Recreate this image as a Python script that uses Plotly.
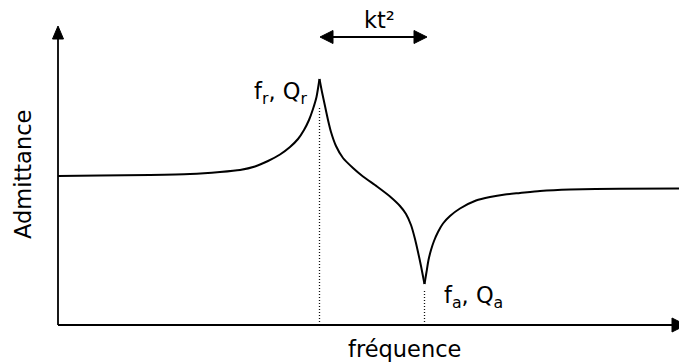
import plotly.graph_objects as go

# Admittance magnitude around resonance (arbitrary units, origin at the axes corner)
freq = [0, 42, 92, 132, 162, 182, 197, 210, 222, 232, 240, 246, 251, 255, 258.5,
        261.5,
        264, 267, 270, 273, 278, 285, 295, 305, 319, 332, 342, 348, 353, 357, 360, 363,
        366.5,
        368.5, 370.5, 373, 376, 380, 385, 392, 402, 418, 432, 447, 462, 482, 512, 562, 621]
admittance = [149, 149.4, 150, 151, 153, 155, 158.5, 164, 170.5, 178, 186, 195, 205, 216, 228,
              246,
              233, 219, 205, 193, 179, 167, 157, 148.5, 138.5, 128.5, 119, 111, 100, 86, 73, 59,
              41,
              53, 65, 75, 84, 93, 101.5, 109, 116.5, 124.5, 128, 130.5, 132, 134, 135.5, 136.3, 136.5]

peak_i = admittance.index(max(admittance))
dip_i = admittance.index(min(admittance[peak_i:]))
f_r, f_a = freq[peak_i], freq[dip_i]

FONT = dict(family="DejaVu Sans", size=22.5, color="black")
INK = "black"

fig = go.Figure()

# three smooth branches so the resonance and anti-resonance stay sharp cusps
for a, b in [(0, peak_i), (peak_i, dip_i), (dip_i, len(freq) - 1)]:
    fig.add_trace(go.Scatter(
        x=freq[a:b + 1], y=admittance[a:b + 1], mode="lines",
        line=dict(color=INK, width=2, shape="spline", smoothing=0.6),
        hoverinfo="skip", showlegend=False))

# dotted markers dropping from fr and fa to the frequency axis
dots = dict(color="#111111", width=1.3, dash="1px,2px")
fig.add_shape(type="line", x0=f_r, x1=f_r, y0=0, y1=admittance[peak_i] - 27, line=dots)
fig.add_shape(type="line", x0=f_a, x1=f_a, y0=0, y1=admittance[dip_i] - 6, line=dots)


def arrow_head(tip_x, tip_y, dx, dy, length, half):
    """Filled triangular head pointing along (dx, dy) with its tip at (tip_x, tip_y)."""
    bx, by = tip_x - dx * length, tip_y - dy * length
    px, py = -dy * half, dx * half
    path = (f"M {tip_x},{tip_y} L {bx + px},{by + py} "
            f"L {bx - px},{by - py} Z")
    fig.add_shape(type="path", path=path, fillcolor=INK, line=dict(color=INK, width=1))


# axes
axis_line = dict(color=INK, width=1.8)
y_top, x_end = 299, 628
fig.add_shape(type="line", x0=0, y0=0, x1=0, y1=y_top - 8, line=axis_line)
arrow_head(0, y_top, 0, 1, 13, 5.5)
fig.add_shape(type="line", x0=0, y0=0, x1=x_end - 8, y1=0, line=axis_line)
arrow_head(x_end, 0, 1, 0, 14, 7)

# coupling coefficient span between fr and fa
y_kt = 288
fig.add_shape(type="line", x0=f_r + 6, y0=y_kt, x1=f_a - 4, y1=y_kt, line=axis_line)
arrow_head(f_r + 0.5, y_kt, -1, 0, 13, 6.5)
arrow_head(f_a + 2.5, y_kt, 1, 0, 13, 6.5)

fig.add_annotation(x=321, y=305, text="kt²", showarrow=False, font=FONT,
                   xanchor="center", yanchor="middle")
fig.add_annotation(x=f_r - 39, y=232, text="f<sub>r</sub>, Q<sub>r</sub>", showarrow=False,
                   font=FONT, xanchor="center", yanchor="middle")
fig.add_annotation(x=f_a + 49, y=28, text="f<sub>a</sub>, Q<sub>a</sub>", showarrow=False,
                   font=FONT, xanchor="center", yanchor="middle")
fig.add_annotation(x=346, y=-24, text="fréquence", showarrow=False, font=FONT,
                   xanchor="center", yanchor="middle")
fig.add_annotation(x=-35, y=150, text="Admittance", showarrow=False, font=FONT,
                   textangle=-90, xanchor="center", yanchor="middle")

fig.update_xaxes(visible=False, range=[-58, 621], fixedrange=True)
fig.update_yaxes(visible=False, range=[-37, 325], fixedrange=True)
fig.update_layout(width=679, height=362, margin=dict(l=0, r=0, t=0, b=0),
                  plot_bgcolor="white", paper_bgcolor="white")

fig.write_html("out.html")
